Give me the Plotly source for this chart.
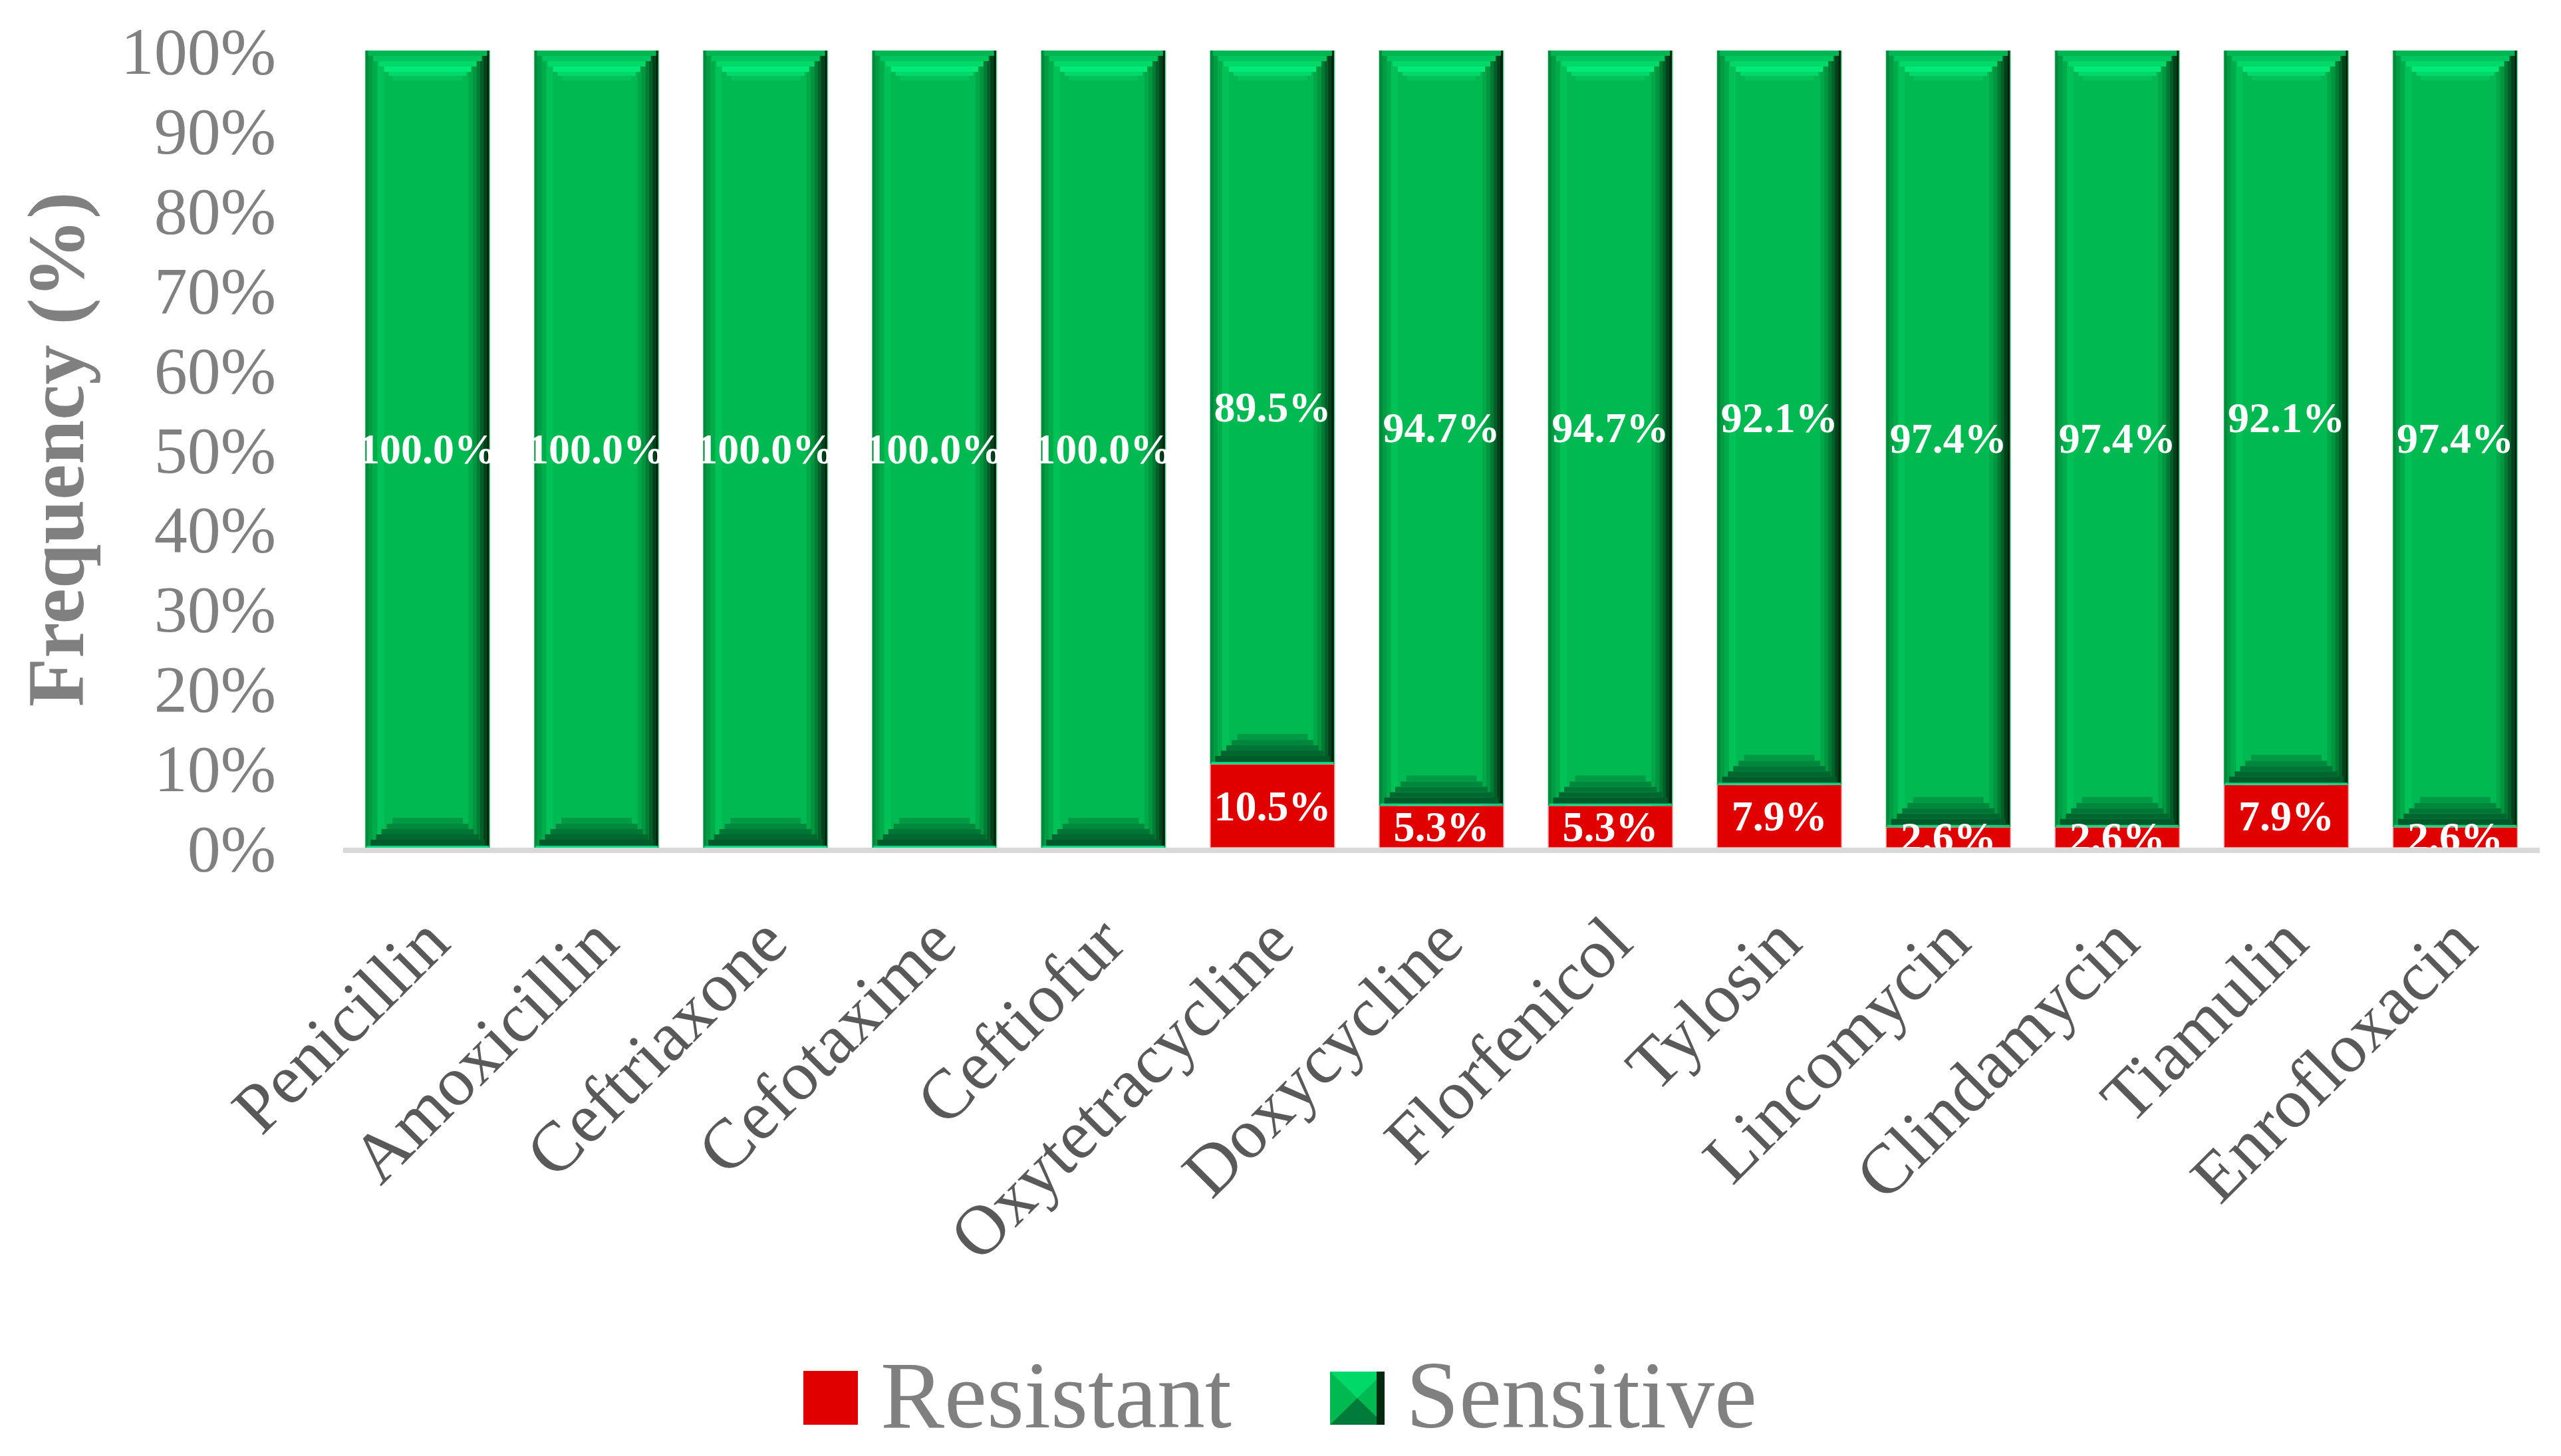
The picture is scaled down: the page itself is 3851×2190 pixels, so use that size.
import plotly.graph_objects as go

# ---------------- data ----------------
categories = ["Penicillin", "Amoxicillin", "Ceftriaxone", "Cefotaxime", "Ceftiofur",
              "Oxytetracycline", "Doxycycline", "Florfenicol", "Tylosin", "Lincomycin",
              "Clindamycin", "Tiamulin", "Enrofloxacin"]
resistant = [0, 0, 0, 0, 0, 10.5, 5.3, 5.3, 7.9, 2.6, 2.6, 7.9, 2.6]
sensitive = [100, 100, 100, 100, 100, 89.5, 94.7, 94.7, 92.1, 97.4, 97.4, 92.1, 97.4]
series_names = ["Resistant", "Sensitive"]
y_tickvals = [0, 10, 20, 30, 40, 50, 60, 70, 80, 90, 100]
y_ticktext = ["0%", "10%", "20%", "30%", "40%", "50%", "60%", "70%", "80%", "90%", "100%"]

# ---------------- layout geometry (pixels) ----------------
FIG_W, FIG_H = 3851, 2190
PLOT_L, PLOT_R, PLOT_T, PLOT_B = 516, 3819, 76, 1275
PLOT_WPX = PLOT_R - PLOT_L
PLOT_HPX = PLOT_B - PLOT_T
PX_PER_CAT = PLOT_WPX / len(categories)
PX_PER_PCT = PLOT_HPX / 100.0
BAR_W = 0.736                      # bar width in category units
BAR_WPX = BAR_W * PX_PER_CAT

FONT = "Liberation Serif"
RED = "#E00000"
GREEN = "#00B950"

def px2x(px):
    return (px - PLOT_L) / PLOT_WPX

def py2y(py):
    return (PLOT_B - py) / PLOT_HPX

fig = go.Figure()

def strip(base, height, x0px, x1px, color):
    fig.add_trace(go.Bar(
        x=categories, y=height, base=base,
        width=(x1px - x0px) / PX_PER_CAT,
        offset=-BAR_W / 2 + x0px / PX_PER_CAT,
        marker=dict(color=color, line=dict(width=0)),
        hoverinfo="skip", showlegend=False, textposition="none"))

# Resistant (flat red)
fig.add_trace(go.Bar(
    x=categories, y=resistant, base=[0] * len(categories), name=series_names[0],
    width=BAR_W, marker=dict(color=RED, line=dict(color="#f4a4a4", width=1.5)),
    showlegend=False, textposition="none"))

# Sensitive main body
fig.add_trace(go.Bar(
    x=categories, y=sensitive, base=resistant, name=series_names[1],
    width=BAR_W, marker=dict(color=GREEN, line=dict(color="#7fd8a8", width=1.5)),
    showlegend=False, textposition="none"))

# bevel: side strips (full height of green segment)
left_side = [(0, 5, "#008a3b"), (5, 11, "#009c43"), (11, 18, "#00ab4a"), (18, 28, "#00c257")]
right_side = [(155, 161, "#00a848"), (161, 167, "#00953f"), (167, 172, "#007b34"),
              (172, 177, "#005f27"), (177, 182, "#00401a"), (182, BAR_WPX - 1, "#00240e")]
for x0, x1, c in left_side + right_side:
    strip(resistant, sensitive, x0, x1, c)

# bevel: top trapezoid (depth from top in px)
top_band = [(0, 8, "#00b552"), (8, 16, "#00c45c"), (16, 24, "#00d868"),
            (24, 32, "#00ea7a"), (32, 38, "#00d86c"), (38, 45, "#00c45a")]
for d0, d1, c in top_band:
    h = (d1 - d0) / PX_PER_PCT
    base = [r + s - d1 / PX_PER_PCT for r, s in zip(resistant, sensitive)]
    dm = (d0 + d1) / 2
    strip(base, [h] * len(categories), dm, BAR_WPX - dm, c)

# bevel: bottom trapezoid (depth from bottom in px)
bottom_band = [(0, 3, "#00d888"), (3, 12, "#005a29"), (12, 20, "#00672f"),
               (20, 28, "#007636"), (28, 36, "#00873e"), (36, 45, "#009944")]
for d0, d1, c in bottom_band:
    h = (d1 - d0) / PX_PER_PCT
    base = [r + d0 / PX_PER_PCT for r in resistant]
    dm = (d0 + d1) / 2
    strip(base, [h] * len(categories), dm, BAR_WPX - dm, c)

# data labels (transparent overlays so text sits on top)
LABEL_SIZE = 64
label_font = dict(family=FONT, size=LABEL_SIZE, color="white")
fig.add_trace(go.Bar(
    x=categories, y=sensitive, base=resistant, width=BAR_W,
    marker=dict(color="rgba(0,0,0,0)", line=dict(width=0)),
    text=[f"<b>{v:.1f}%</b>" for v in sensitive], textposition="inside",
    insidetextanchor="middle", textangle=0, constraintext="none",
    textfont=label_font, showlegend=False, hoverinfo="skip"))
fig.add_trace(go.Bar(
    x=categories, y=resistant, base=[0] * len(categories), width=BAR_W,
    marker=dict(color="rgba(0,0,0,0)", line=dict(width=0)),
    text=[f"<b>{v:.1f}%</b>" if v > 0 else "" for v in resistant], textposition="inside",
    insidetextanchor="middle", textangle=0, constraintext="none",
    textfont=label_font, showlegend=False, hoverinfo="skip"))

# ---------------- manual legend ----------------
shapes = [
    dict(type="rect", xref="paper", yref="paper", x0=px2x(1208), x1=px2x(1290),
         y0=py2y(2143), y1=py2y(2062), fillcolor=RED, line=dict(width=0)),
    dict(type="rect", xref="paper", yref="paper", x0=px2x(2000), x1=px2x(2082),
         y0=py2y(2143), y1=py2y(2063), fillcolor=GREEN, line=dict(width=0)),
    dict(type="path", xref="paper", yref="paper",
         path=f"M{px2x(2000)},{py2y(2063)} L{px2x(2082)},{py2y(2063)} L{px2x(2041)},{py2y(2103)} Z",
         fillcolor="#00d868", line=dict(width=0)),
    dict(type="path", xref="paper", yref="paper",
         path=f"M{px2x(2000)},{py2y(2143)} L{px2x(2082)},{py2y(2143)} L{px2x(2041)},{py2y(2103)} Z",
         fillcolor="#007a38", line=dict(width=0)),
    dict(type="rect", xref="paper", yref="paper", x0=px2x(2070), x1=px2x(2082),
         y0=py2y(2143), y1=py2y(2063), fillcolor="#002a10", line=dict(width=0)),
]

annotations = [
    dict(text=series_names[0], xref="paper", yref="paper", x=px2x(1322), y=py2y(2098),
         xanchor="left", yanchor="middle", showarrow=False,
         font=dict(family=FONT, size=144, color="#808080")),
    dict(text=series_names[1], xref="paper", yref="paper", x=px2x(2112), y=py2y(2098),
         xanchor="left", yanchor="middle", showarrow=False,
         font=dict(family=FONT, size=144, color="#808080")),
    dict(text="<b>Frequency (%)</b>", xref="paper", yref="paper", x=px2x(84), y=py2y(676),
         xanchor="center", yanchor="middle", textangle=-90, showarrow=False,
         font=dict(family=FONT, size=120, color="#808080")),
]

fig.update_layout(
    width=FIG_W, height=FIG_H,
    margin=dict(l=PLOT_L, r=FIG_W - PLOT_R, t=PLOT_T, b=FIG_H - PLOT_B, pad=0),
    paper_bgcolor="white", plot_bgcolor="white",
    barmode="overlay", showlegend=False,
    uniformtext=dict(minsize=LABEL_SIZE, mode="show"),
    shapes=shapes, annotations=annotations,
    xaxis=dict(type="category", range=[-0.5, len(categories) - 0.5], automargin=False,
               showgrid=False, zeroline=False, showline=True, linecolor="#d9d9d9", linewidth=8,
               tickangle=-45, ticks="outside", ticklen=28, tickcolor="rgba(0,0,0,0)",
               tickfont=dict(family=FONT, size=106, color="#595959")),
    yaxis=dict(range=[0, 100], automargin=False, showgrid=False, zeroline=False, showline=False,
               tickvals=y_tickvals, ticktext=y_ticktext, ticks="", ticklabelstandoff=100,
               tickfont=dict(family=FONT, size=100, color="#808080")),
)

fig.write_html("out.html", config={"displayModeBar": False},
               post_script="document.body.style.margin='0';document.body.style.padding='0';")
